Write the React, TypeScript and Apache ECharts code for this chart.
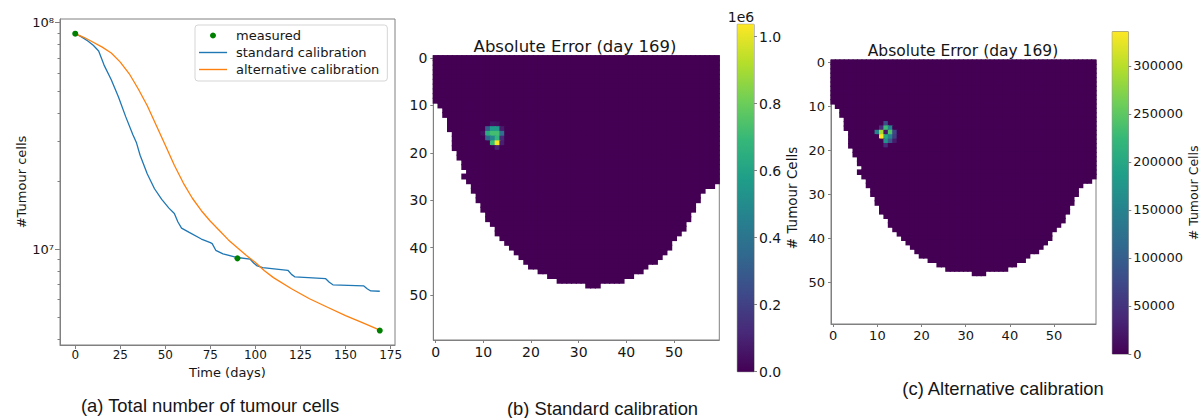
import React, { useEffect, useRef } from "react";
import * as echarts from "echarts";

// ---------- Panel (a) data ----------
const stdDays = [0, 3, 7, 10, 13, 16, 20, 24, 28, 32, 34, 36, 40, 44, 48, 52, 55, 57, 59, 63, 70, 75, 76, 78, 82, 90, 97, 99, 101, 104, 118, 120, 122, 139, 141, 143, 160, 162, 164, 169];
const stdCells = [8.94e7, 8.7e7, 8.3e7, 7.95e7, 7.5e7, 6.5e7, 5.6e7, 4.7e7, 3.85e7, 3.2e7, 2.95e7, 2.6e7, 2.15e7, 1.85e7, 1.66e7, 1.52e7, 1.44e7, 1.32e7, 1.24e7, 1.19e7, 1.11e7, 1.07e7, 1.06e7, 9.9e6, 9.55e6, 9.2e6, 9.05e6, 8.7e6, 8.45e6, 8.3e6, 8.08e6, 7.75e6, 7.55e6, 7.42e6, 7.15e6, 6.97e6, 6.9e6, 6.7e6, 6.55e6, 6.53e6];
const altDays = [0, 5, 10, 15, 20, 25, 30, 35, 40, 45, 50, 55, 60, 65, 70, 75, 80, 85, 90, 95, 100, 105, 110, 120, 130, 140, 150, 160, 169];
const altCells = [8.94e7, 8.6e7, 8.2e7, 7.8e7, 7.35e7, 6.7e7, 5.95e7, 5.1e7, 4.3e7, 3.52e7, 2.88e7, 2.35e7, 1.96e7, 1.68e7, 1.48e7, 1.33e7, 1.21e7, 1.1e7, 1.015e7, 9.4e6, 8.75e6, 8.05e6, 7.5e6, 6.7e6, 6.05e6, 5.55e6, 5.1e6, 4.72e6, 4.4e6];
const measDays = [0, 90, 169];
const measCells = [8.94e7, 9.12e6, 4.38e6];
const xTicks = [0, 25, 50, 75, 100, 125, 150, 175];
const yMajor = [1e7, 1e8];
const yMinor = [4e6, 5e6, 6e6, 7e6, 8e6, 9e6, 2e7, 3e7, 4e7, 5e7, 6e7, 7e7, 8e7, 9e7];

// ---------- Heatmap data (60 x 60 grid, masked outside region) ----------
const gridCols = Array.from({ length: 60 }, (_, i) => String(i));
const rowStart = [0, 0, 0, 0, 0, 0, 0, 0, 0, 0, 1, 2, 2, 3, 3, 3, 4, 4, 4, 4, 5, 5, 6, 6, 7, 6, 7, 8, 8, 9, 9, 10, 10, 11, 11, 12, 13, 13, 14, 15, 16, 17, 18, 19, 20, 22, 24, 26, 32];
const rowEnd = [59, 59, 59, 59, 59, 59, 59, 59, 59, 59, 59, 59, 59, 59, 59, 59, 59, 59, 59, 59, 59, 59, 59, 59, 59, 59, 59, 58, 56, 55, 55, 54, 54, 53, 53, 52, 52, 51, 50, 49, 49, 48, 47, 46, 44, 43, 41, 39, 34];
const background = 0;
// [row, col, value]
const hotStandard = [
  [14, 12, 50000], [14, 13, 40000],
  [15, 11, 300000], [15, 12, 560000], [15, 13, 560000], [15, 14, 80000],
  [16, 10, 40000], [16, 11, 640000], [16, 12, 720000], [16, 13, 720000], [16, 14, 380000],
  [17, 11, 330000], [17, 12, 480000], [17, 13, 680000], [17, 14, 120000],
  [18, 12, 700000], [18, 13, 1030000], [18, 14, 90000],
  [19, 13, 100000],
];
const hotAlternative = [
  [14, 12, 80000],
  [15, 11, 40000], [15, 12, 230000], [15, 13, 150000],
  [16, 10, 150000], [16, 11, 290000], [16, 12, 20000], [16, 13, 240000], [16, 14, 70000],
  [17, 11, 335000], [17, 12, 200000], [17, 13, 150000], [17, 14, 60000],
  [18, 12, 170000], [18, 13, 90000], [18, 14, 25000],
  [19, 12, 40000],
];
const maxStandard = 1.037e6;
const maxAlternative = 335700;
const cbTicksStandard = [0, 200000, 400000, 600000, 800000, 1000000];
const cbTicksAlternative = [0, 50000, 100000, 150000, 200000, 250000, 300000];

const viridis = ["#440154", "#482878", "#3e4989", "#31688e", "#26828e", "#1f9e89", "#35b779", "#6ece58", "#b5de2b", "#fde725"];

const FONT = "DejaVu Sans";
const SPINE = "#808080";
const TXT = "#161616";

function buildCells(hot: number[][]) {
  const m = new Map<number, number>();
  hot.forEach(([r, c, v]) => m.set(r * 100 + c, v));
  const out: number[][] = [];
  rowStart.forEach((s, r) => {
    for (let c = s; c <= rowEnd[r]; c++) {
      const v = m.get(r * 100 + c);
      out.push([c, r, v === undefined ? background : v]);
    }
  });
  return out;
}

const lg = (v: number) => Math.log10(v);
const sup: Record<string, string> = { "7": "\u2077", "8": "\u2078" };

function heatAxes(gi: number, fs: number) {
  const x = {
    type: "category", gridIndex: gi, data: gridCols, position: "bottom",
    axisLine: { show: true, lineStyle: { color: SPINE } },
    axisTick: { show: true, interval: 9, alignWithLabel: true, length: 3, lineStyle: { color: SPINE } },
    axisLabel: { interval: 9, fontSize: fs, color: TXT, fontFamily: FONT, margin: 5 },
    splitLine: { show: false },
  };
  const y = {
    type: "category", gridIndex: gi, data: gridCols, inverse: true,
    axisLine: { show: true, lineStyle: { color: SPINE } },
    axisTick: { show: true, interval: 9, alignWithLabel: true, length: 3, lineStyle: { color: SPINE } },
    axisLabel: { interval: 9, fontSize: fs, color: TXT, fontFamily: FONT, margin: 6 },
    splitLine: { show: false },
  };
  return { x, y };
}

function cbarAxis(gi: number, max: number, ticks: number[], fmt: (v: number) => string, fs: number, gap: number) {
  return {
    type: "value", gridIndex: gi, position: "right", min: 0, max,
    axisLine: { show: false },
    axisTick: { show: true, customValues: ticks, length: 3, lineStyle: { color: SPINE } },
    axisLabel: { customValues: ticks, formatter: fmt, fontSize: fs, color: TXT, fontFamily: FONT, margin: 5 },
    splitLine: { show: false },
    name: "# Tumour Cells", nameLocation: "middle", nameRotate: 90, nameGap: gap,
    nameTextStyle: { fontSize: fs - 0.5, color: TXT, fontFamily: FONT },
  };
}

function gradient() {
  return new echarts.graphic.LinearGradient(0, 1, 0, 0,
    viridis.map((c, i) => ({ offset: i / (viridis.length - 1), color: c })));
}

function textEl(text: string, x: number, y: number, size: number, family: string) {
  return {
    type: "text", x, y,
    style: {
      text, fill: TXT, font: `${size}px "${family}"`,
      textAlign: "center", align: "center", textVerticalAlign: "middle", verticalAlign: "middle",
    },
  };
}

// cells drawn as slightly overlapping rects so no seams show between equal cells
function cellRenderer(params: any, api: any) {
  const p = api.coord([api.value(0), api.value(1)]);
  const s = api.size([1, 1]);
  const pad = 0.6;
  return {
    type: "rect",
    shape: { x: p[0] - s[0] / 2 - pad, y: p[1] - s[1] / 2 - pad, width: s[0] + 2 * pad, height: s[1] + 2 * pad },
    style: { fill: api.visual("color") },
  };
}

const lineIcon = "path://M0,0h40v2h-40z";

export default function App() {
  const ref = useRef<HTMLDivElement>(null);
  useEffect(() => {
    const chart = echarts.init(ref.current!, undefined, { renderer: "svg", width: 1202, height: 418 });
    const hb = heatAxes(1, 14);
    const hc = heatAxes(3, 13);
    const option: any = {
      animation: false,
      textStyle: { fontFamily: FONT },
      grid: [
        { left: 60, top: 19, width: 335, height: 326, show: true, borderColor: SPINE, borderWidth: 1 },
        { left: 433.3, top: 55.7, width: 286, height: 284.3, show: true, borderColor: SPINE, borderWidth: 1 },
        { left: 737.3, top: 24.3, width: 16.7, height: 347.4, show: true, borderColor: SPINE, borderWidth: 1 },
        { left: 831, top: 60, width: 265, height: 264, show: true, borderColor: SPINE, borderWidth: 1 },
        { left: 1112.3, top: 31.7, width: 16, height: 322.3, show: true, borderColor: SPINE, borderWidth: 1 },
      ],
      legend: {
        data: [
          { name: "measured", icon: "circle" },
          { name: "standard calibration", icon: lineIcon },
          { name: "alternative calibration", icon: lineIcon },
        ],
        orient: "vertical", left: 195, top: 25,
        itemWidth: 28, itemHeight: 6, itemGap: 4, symbolKeepAspect: true,
        padding: [4, 8, 5, 4],
        backgroundColor: "#fff", borderColor: "#d5d5d5", borderWidth: 1, borderRadius: 3,
        textStyle: { fontSize: 13, color: TXT, fontFamily: FONT, padding: [0, 0, 0, 4] },
      },
      xAxis: [
        {
          type: "value", gridIndex: 0, min: -8.45, max: 177.45,
          axisLine: { show: true, onZero: false, lineStyle: { color: SPINE } },
          axisTick: { show: true, customValues: xTicks, length: 4, lineStyle: { color: SPINE } },
          axisLabel: { customValues: xTicks, fontSize: 12, color: TXT, fontFamily: FONT, margin: 4 },
          splitLine: { show: false },
          name: "Time (days)", nameLocation: "middle", nameGap: 18,
          nameTextStyle: { fontSize: 13, color: TXT, fontFamily: FONT },
        },
        hb.x,
        { type: "category", gridIndex: 2, data: ["cb"], show: false },
        hc.x,
        { type: "category", gridIndex: 4, data: ["cb"], show: false },
      ],
      yAxis: [
        {
          type: "value", gridIndex: 0, min: 6.5777, max: 8.0163,
          axisLine: { show: true, onZero: false, lineStyle: { color: SPINE } },
          axisTick: { show: true, customValues: yMajor.map(lg), length: 5, lineStyle: { color: SPINE } },
          axisLabel: {
            customValues: yMajor.map(lg), fontSize: 13, color: TXT, fontFamily: FONT, margin: 6,
            formatter: (v: number) => "10" + sup[String(Math.round(v))],
          },
          splitLine: { show: false },
          name: "#Tumour cells", nameLocation: "middle", nameRotate: 90, nameGap: 32,
          nameTextStyle: { fontSize: 13, color: TXT, fontFamily: FONT },
        },
        {
          type: "value", gridIndex: 0, min: 6.5777, max: 8.0163, position: "left",
          axisLine: { show: false, onZero: false },
          axisTick: { show: true, customValues: yMinor.map(lg), length: 2.5, lineStyle: { color: SPINE } },
          axisLabel: { show: false },
          splitLine: { show: false },
        },
        hb.y,
        cbarAxis(2, maxStandard, cbTicksStandard, (v: number) => (v / 1e6).toFixed(1), 14, 28),
        hc.y,
        cbarAxis(4, maxAlternative, cbTicksAlternative, (v: number) => String(v), 13, 54),
      ],
      visualMap: [
        { type: "continuous", show: false, seriesIndex: 3, dimension: 2, min: 0, max: maxStandard, inRange: { color: viridis } },
        { type: "continuous", show: false, seriesIndex: 5, dimension: 2, min: 0, max: maxAlternative, inRange: { color: viridis } },
      ],
      series: [
        {
          name: "standard calibration", type: "line", xAxisIndex: 0, yAxisIndex: 0,
          data: stdDays.map((d, i) => [d, lg(stdCells[i])]),
          symbol: "none", color: "#1f77b4", lineStyle: { width: 1.3, color: "#1f77b4" },
        },
        {
          name: "alternative calibration", type: "line", xAxisIndex: 0, yAxisIndex: 0,
          data: altDays.map((d, i) => [d, lg(altCells[i])]),
          symbol: "none", color: "#ff7f0e", lineStyle: { width: 1.3, color: "#ff7f0e" },
        },
        {
          name: "measured", type: "scatter", xAxisIndex: 0, yAxisIndex: 0,
          data: measDays.map((d, i) => [d, lg(measCells[i])]),
          symbol: "circle", symbolSize: 6, color: "#008000", itemStyle: { color: "#008000", opacity: 1 }, z: 5,
        },
        {
          type: "custom", coordinateSystem: "cartesian2d", xAxisIndex: 1, yAxisIndex: 2,
          data: buildCells(hotStandard), encode: { x: 0, y: 1 }, renderItem: cellRenderer, silent: true,
        },
        {
          type: "bar", xAxisIndex: 2, yAxisIndex: 3, data: [maxStandard], barWidth: "100%",
          itemStyle: { color: gradient() }, silent: true,
        },
        {
          type: "custom", coordinateSystem: "cartesian2d", xAxisIndex: 3, yAxisIndex: 4,
          data: buildCells(hotAlternative), encode: { x: 0, y: 1 }, renderItem: cellRenderer, silent: true,
        },
        {
          type: "bar", xAxisIndex: 4, yAxisIndex: 5, data: [maxAlternative], barWidth: "100%",
          itemStyle: { color: gradient() }, silent: true,
        },
      ],
      graphic: [
        textEl("Absolute Error (day 169)", 575, 46, 16.5, FONT),
        textEl("Absolute Error (day 169)", 963, 51, 15.5, FONT),
        textEl("1e6", 741, 17, 14, FONT),
        textEl("(a) Total number of tumour cells", 210, 405, 18.4, "Liberation Sans"),
        textEl("(b) Standard calibration", 602.5, 408, 18.4, "Liberation Sans"),
        textEl("(c) Alternative calibration", 1003, 388.5, 18.4, "Liberation Sans"),
      ],
    };
    chart.setOption(option);
    return () => chart.dispose();
  }, []);
  return (
    <div
      ref={ref}
      style={{ position: "absolute", left: 0, top: 0, width: 1202, height: 418, background: "#fff" }}
    />
  );
}
